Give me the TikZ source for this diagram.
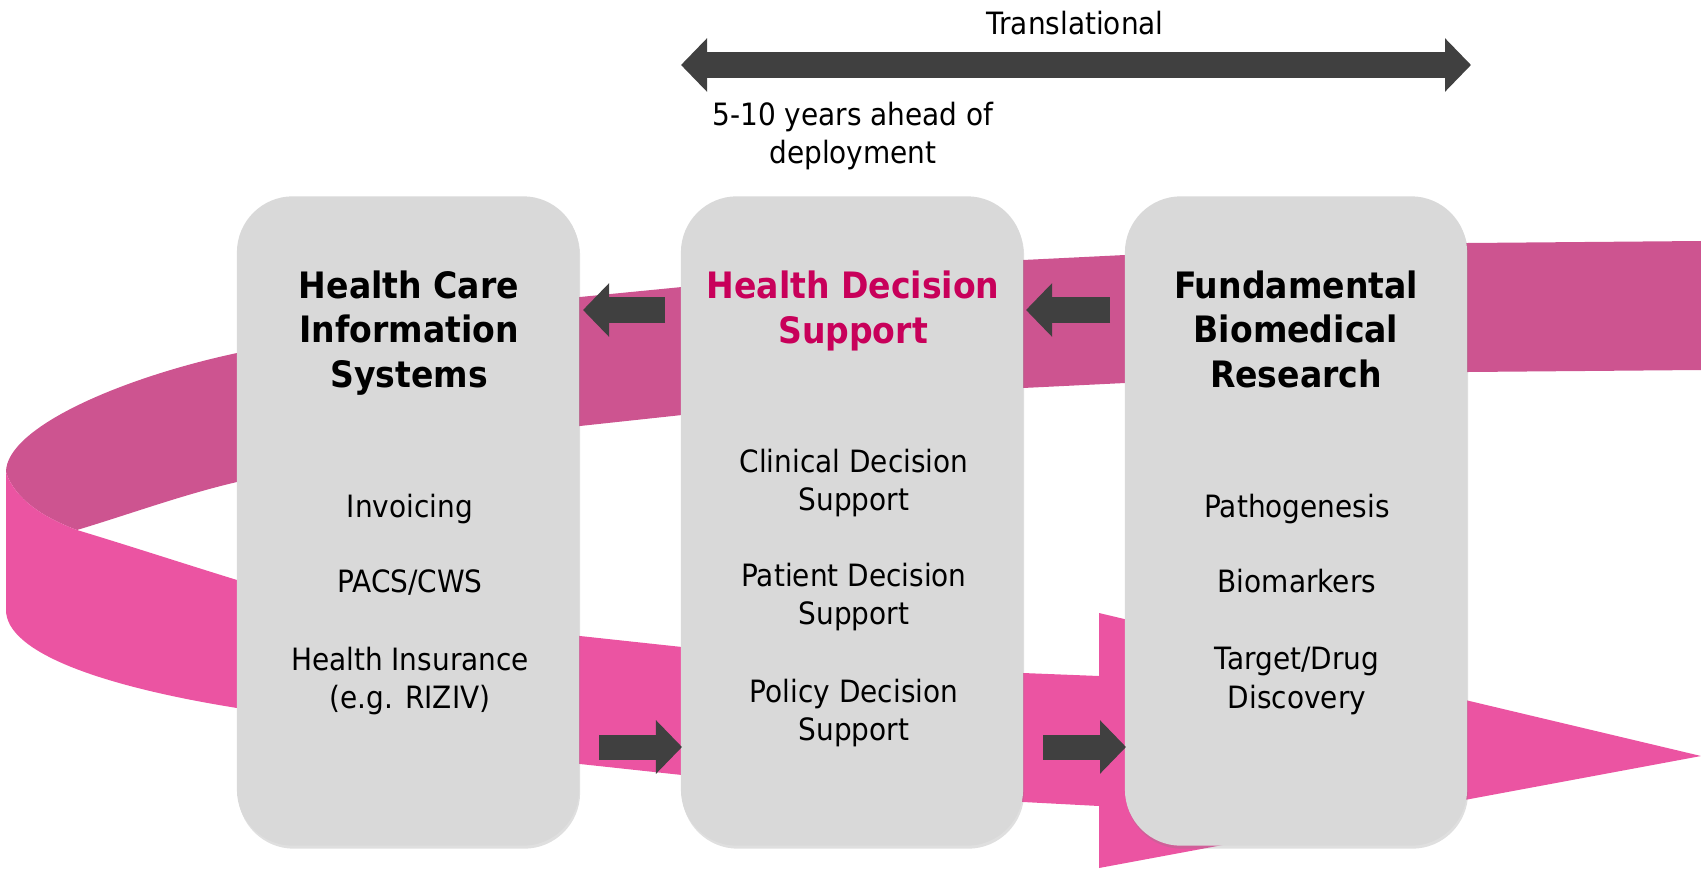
\documentclass[tikz,border=0pt]{standalone}
\usepackage{fontspec}
\setmainfont{DejaVu Sans}[FakeStretch=0.91]
\usepackage{tikz}
\usetikzlibrary{arrows.meta,shadows,positioning}
\definecolor{bandback}{RGB}{205,84,144}
\definecolor{bandfront}{RGB}{235,84,162}
\definecolor{boxgray}{RGB}{217,217,217}
\definecolor{arrowgray}{RGB}{64,64,64}
\definecolor{hdsred}{RGB}{200,0,90}

\begin{document}
\begin{tikzpicture}[x=0.01cm, y=-0.01cm,
    colbox/.style={rectangle, rounded corners=0.56cm, fill=boxgray, minimum width=3.42cm, minimum height=6.49cm, inner sep=0pt, drop shadow={opacity=0.25, shadow xshift=0.01cm, shadow yshift=-0.03cm}},
    coltitle/.style={align=center, inner sep=0pt, font=\fontsize{10.34}{12.66}\selectfont\bfseries},
    colitem/.style={align=center, inner sep=0pt, font=\fontsize{8.74}{10.9}\selectfont},
    blockarrow/.style={color=arrowgray, line width=0.25cm, -{Triangle[width=0.52cm, length=0.26cm]}}]
  \useasboundingbox (0,0) rectangle (1701,870);

  % ribbon, back part
  \fill[bandback] (1701,241) -- (1468,243) -- (1125,255) -- (1023,260) -- (682,287) -- (580,297) -- (237,353)
    .. controls (120,378) and (6,428) .. (6,472)
    .. controls (15,500) and (45,518) .. (77,530)
    .. controls (130,514) and (185,494) .. (237,482)
    -- (580,426) -- (682,415) -- (1023,388) -- (1125,383) -- (1468,372) -- (1701,370) -- cycle;
  % ribbon, front part with head
  \fill[bandfront] (77,530) .. controls (130,546) and (185,564) .. (237,580)
    -- (580,636) -- (682,647) -- (1023,673) -- (1099,676) -- (1099,613) -- (1701,756)
    -- (1099,868) -- (1099,806) -- (1023,802) -- (682,775) -- (580,764) -- (237,708)
    .. controls (100,686) and (6,652) .. (6,610) -- (6,472)
    .. controls (15,500) and (45,518) .. (77,530) -- cycle;

  \node[colbox] (hcis) at (408,521) {};
  \node[colbox] (hds) at (852,521) {};
  \node[colbox] (fbr) at (1296,521) {};

  \node[coltitle] (hcisT) at (409,333) {Health Care\\Information\\Systems};
  \node[coltitle, text=hdsred] (hdsT) at (853,311) {Health Decision\\Support};
  \node[coltitle] (fbrT) at (1296,329) {Fundamental\\Biomedical\\Research};

  \node[colitem] (inv) at (410,509) {Invoicing};
  \node[colitem] (pacs) at (410,583) {PACS/CWS};
  \node[colitem] (ins) at (410,681) {Health Insurance\\(e.g. RIZIV)};
  \node[colitem] (cds) at (854,483) {Clinical Decision\\Support};
  \node[colitem] (pds) at (854,597) {Patient Decision\\Support};
  \node[colitem] (pol) at (854,713) {Policy Decision\\Support};
  \node[colitem] (patho) at (1297,509) {Pathogenesis};
  \node[colitem] (bio) at (1297,581) {Biomarkers};
  \node[colitem] (drug) at (1297,681) {Target/Drug\\Discovery};

  \node[colitem] (trans) at (1075,23) {Translational};
  \node[colitem] (ahead) at (853,136) {5-10 years ahead of\\deployment};

  \coordinate (t1) at (681,65);
  \coordinate (t2) at (1471,65);
  \coordinate (u1) at (665,310);
  \coordinate (u2) at (583,310);
  \coordinate (u3) at (1110,310);
  \coordinate (u4) at (1026,310);
  \coordinate (d1) at (599,747);
  \coordinate (d2) at (682,747);
  \coordinate (d3) at (1043,747);
  \coordinate (d4) at (1126,747);

  \draw[blockarrow, {Triangle[width=0.52cm, length=0.26cm]}-{Triangle[width=0.52cm, length=0.26cm]}] (t1) -- (t2);
  \draw[blockarrow] (u1) -- (u2);
  \draw[blockarrow] (u3) -- (u4);
  \draw[blockarrow] (d1) -- (d2);
  \draw[blockarrow] (d3) -- (d4);

\end{tikzpicture}
\end{document}
